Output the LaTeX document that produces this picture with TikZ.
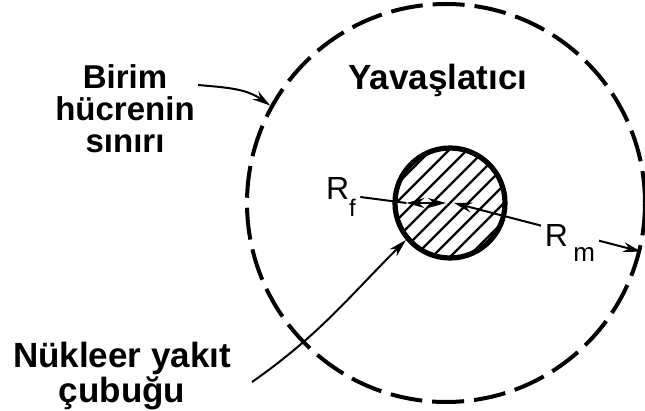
\documentclass[tikz,border=0pt]{standalone}
\usepackage{fontspec}
\setmainfont{Liberation Sans}
\usetikzlibrary{
  arrows.meta,
  positioning,
  calc
}
\tikzset{
  cellbound/.style={
    circle, draw=black, line width=2pt,
    dash pattern=on 16pt off 5pt,
    minimum size=199pt, inner sep=0pt
  },
  fuelrod/.style={
    circle, draw=black, line width=2.6pt,
    minimum size=55pt, inner sep=0pt
  },
  hatchline/.style={
    draw=black, line width=1.2pt
  },
  celltext/.style={
    font=\fontsize{17.5}{15}\selectfont\bfseries,
    align=center, inner sep=0pt
  },
  radiustext/.style={
    font=\fontsize{16}{16}\selectfont, inner sep=2pt
  },
  leaderarrow/.style={
    -{Stealth[length=9pt,width=5pt]},
    draw=black, line width=1pt
  },
  dimarrow/.style={
    {Stealth[length=9pt,width=5pt]}-{Stealth[length=9pt,width=5pt]},
    draw=black, line width=1pt
  },
}

\begin{document}
\begin{tikzpicture}[x=0.5pt, y=-0.5pt]

  \useasboundingbox[fill=white] (0,0) rectangle (645,411);

  %% Unit cell and fuel rod
  \node[cellbound] (cell) at (446,203) {};
  \node[fuelrod] (fuel) at (450,203) {};

  %% Hatching of the rod
  \begin{scope}
    \clip (fuel.center) circle (27.5pt);
    \foreach \d in {-36,-27,...,36}
      \draw[hatchline] ([xshift=\d pt]fuel.center) ++(-30pt,-30pt) -- ++(60pt,60pt);
  \end{scope}

  %% Labels
  \node[celltext, above=24pt of fuel, xshift=-6pt] (moderator) {Yavaşlatıcı};
  \node[celltext, font=\fontsize{16.5}{16}\selectfont\bfseries,
        anchor=north] (boundary) at (125,64)
    {Birim\\hücrenin\\sınırı};
  \node[celltext, anchor=north] (rod) at (122,342)
    {Nükleer yakıt\\çubuğu};

  \coordinate (boundtail) at (198,85);
  \coordinate (rodtail) at (252,382);

  \draw[leaderarrow] (boundtail) to[out=-5, in=145] (cell.151);
  \draw[leaderarrow] (rodtail) to[out=35, in=225] (fuel.220);

  %% Radii
  \node[radiustext] (rf) at (341,197)
    {R\raisebox{-8.5pt}{\fontsize{12}{12}\selectfont f}};
  \draw[line width=1pt] (rf.east) -- ([xshift=7pt]fuel.west);
  \draw[dimarrow] ([xshift=7pt]fuel.west) -- ([xshift=-2pt]fuel.center);

  \draw[dimarrow] ([xshift=2pt]fuel.center) --
    node[radiustext, fill=white, pos=0.62, yshift=-5pt] (rm)
    {R\,\raisebox{-7.3pt}{\fontsize{13}{13}\selectfont m}} (cell.-14);

\end{tikzpicture}
\end{document}
